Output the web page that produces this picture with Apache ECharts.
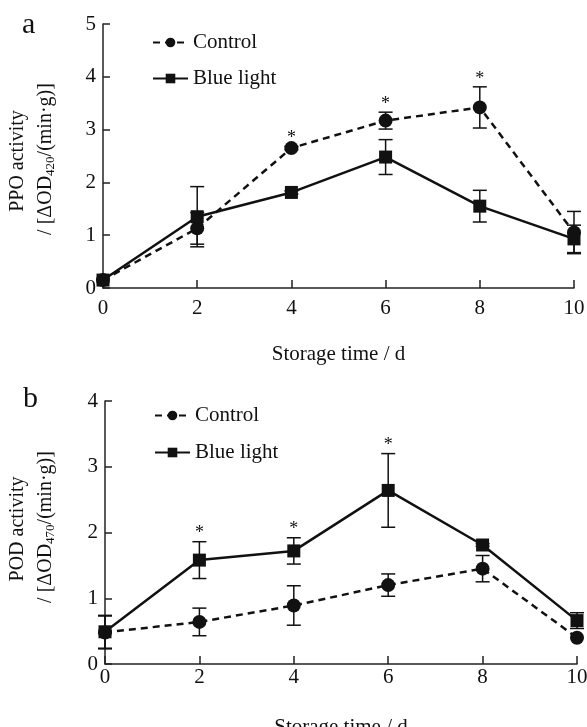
<!DOCTYPE html>
<html>
<head>
<meta charset="utf-8">
<script src="https://cdn.jsdelivr.net/npm/echarts@6/dist/echarts.min.js"></script>
<style>html,body{margin:0;padding:0;background:#fff}#c{width:587px;height:727px}</style>
</head>
<body>
<div id="c"></div>
<script>
// ---- data ----
var days = [0, 2, 4, 6, 8, 10];
var xTicks = [0, 2, 4, 6, 8, 10];
// Panel a: PPO activity
var ppoControl = [0.15, 1.13, 2.65, 3.17, 3.42, 1.05];
var ppoControlErr = [0, 0.30, 0.03, 0.16, 0.39, 0.40];
var ppoBlue = [0.15, 1.35, 1.81, 2.48, 1.55, 0.93];
var ppoBlueErr = [0, 0.57, 0.03, 0.33, 0.30, 0.26];
var ppoSig = [0, 0, 1, 1, 1, 0];
// Panel b: POD activity
var podControl = [0.48, 0.64, 0.89, 1.20, 1.45, 0.40];
var podControlErr = [0.25, 0.21, 0.30, 0.17, 0.20, 0];
var podBlue = [0.49, 1.58, 1.72, 2.64, 1.81, 0.66];
var podBlueErr = [0.25, 0.28, 0.20, 0.56, 0.02, 0.12];
var podSig = [0, 1, 1, 1, 0, 0];

var FONT = '"Liberation Serif", "DejaVu Serif", serif';
var INK = '#111';
var FS = 21;

function pts(vals) { return days.map(function (d, i) { return [d, vals[i]]; }); }
function errPts(vals, errs) {
  return days.map(function (d, i) { return [d, vals[i] - errs[i], vals[i] + errs[i]]; })
    .filter(function (p, i) { return errs[i] > 0; });
}
function sigPts(sig, a, ae, b, be) {
  var out = [];
  days.forEach(function (d, i) {
    if (sig[i]) out.push([d, Math.max(a[i] + ae[i], b[i] + be[i])]);
  });
  return out;
}

function errSeries(data, idx) {
  return {
    type: 'custom', xAxisIndex: idx, yAxisIndex: idx, data: data, z: 1,
    encode: { x: 0, y: [1, 2] },
    renderItem: function (params, api) {
      var x = api.value(0);
      var lo = api.coord([x, api.value(1)]);
      var hi = api.coord([x, api.value(2)]);
      var w = 7;
      var st = { stroke: INK, lineWidth: 1.5 };
      return { type: 'group', children: [
        { type: 'line', shape: { x1: lo[0], y1: lo[1], x2: hi[0], y2: hi[1] }, style: st },
        { type: 'line', shape: { x1: lo[0] - w, y1: lo[1], x2: lo[0] + w, y2: lo[1] }, style: st },
        { type: 'line', shape: { x1: hi[0] - w, y1: hi[1], x2: hi[0] + w, y2: hi[1] }, style: st }
      ] };
    }
  };
}
function sigSeries(data, idx) {
  return {
    type: 'custom', xAxisIndex: idx, yAxisIndex: idx, data: data, z: 5,
    encode: { x: 0, y: 1 },
    renderItem: function (params, api) {
      var p = api.coord([api.value(0), api.value(1)]);
      return { type: 'text', x: p[0], y: p[1] + 1,
        style: { text: '*', fill: INK, font: '18px ' + FONT, align: 'center', verticalAlign: 'bottom' } };
    }
  };
}
function lineSeries(name, data, idx, dashed, symbol) {
  return {
    name: name, type: 'line', xAxisIndex: idx, yAxisIndex: idx, data: data, z: 3,
    symbol: symbol, symbolSize: symbol === 'circle' ? 14 : 13,
    itemStyle: { color: INK },
    lineStyle: { color: INK, width: 2.5, type: dashed ? [7, 5] : 'solid' }
  };
}

function xAxis(idx, labelMargin, nameGap) {
  return {
    type: 'value', gridIndex: idx, min: 0, max: 10, interval: 2,
    axisLine: { lineStyle: { color: '#222', width: 1.5 } },
    axisTick: { inside: true, length: 8, lineStyle: { color: '#222', width: 1.5 } },
    axisLabel: { color: INK, fontFamily: FONT, fontSize: FS, margin: labelMargin,
      formatter: function (v) { return xTicks.indexOf(v) >= 0 ? String(v) : ''; } },
    splitLine: { show: false },
    name: 'Storage time / d', nameLocation: 'middle', nameGap: nameGap,
    nameTextStyle: { color: INK, fontFamily: FONT, fontSize: FS }
  };
}
function yAxis(idx, max) {
  return {
    type: 'value', gridIndex: idx, min: 0, max: max, interval: 1,
    axisLine: { show: true, lineStyle: { color: '#222', width: 1.5 } },
    axisTick: { show: true, inside: true, length: 7, lineStyle: { color: '#222', width: 1.5 } },
    axisLabel: { color: INK, fontFamily: FONT, fontSize: FS, margin: 7 },
    splitLine: { show: false }
  };
}
function legend(top, left, gap) {
  return {
    orient: 'vertical', left: left, top: top, itemWidth: 35, itemHeight: 12, itemGap: gap,
    padding: 0,
    data: ['Control', 'Blue light'],
    textStyle: { color: INK, fontFamily: FONT, fontSize: FS },
    selectedMode: false
  };
}
function yTitle(x1, x2, yc, top, sub) {
  return [
    { type: 'text', x: x1, y: yc, rotation: Math.PI / 2,
      style: { text: top, fill: INK, font: '20px ' + FONT, align: 'center', verticalAlign: 'middle' } },
    { type: 'text', x: x2, y: yc - 2, rotation: Math.PI / 2,
      style: { text: '/ [ΔOD{s|' + sub + '}/(min·g)]', fill: INK, font: '20px ' + FONT,
        align: 'center', verticalAlign: 'middle',
        rich: { s: { fontSize: 13, fontFamily: FONT, fill: INK, verticalAlign: 'bottom', padding: [10, 0, 0, 0] } } } }
  ];
}

var chart = echarts.init(document.getElementById('c'), null, { renderer: 'canvas' });
chart.setOption({
  animation: false,
  backgroundColor: '#fff',
  grid: [
    { left: 103, top: 24, width: 471, height: 264, outerBoundsMode: 'none', containLabel: false },
    { left: 105, top: 401, width: 472, height: 263, outerBoundsMode: 'none', containLabel: false }
  ],
  xAxis: [xAxis(0, 10, 56), xAxis(1, 3, 53)],
  yAxis: [yAxis(0, 5), yAxis(1, 4)],
  legend: [legend(32, 152, 15), legend(405, 154, 16)],
  graphic: [
    { type: 'text', x: 22, y: 10, style: { text: 'a', fill: INK, font: '30px ' + FONT } },
    { type: 'text', x: 23, y: 384, style: { text: 'b', fill: INK, font: '30px ' + FONT } }
  ].concat(yTitle(18, 46, 161, 'PPO activity', '420'))
   .concat(yTitle(18, 46, 529, 'POD activity', '470')),
  series: [
    errSeries(errPts(ppoControl, ppoControlErr), 0),
    errSeries(errPts(ppoBlue, ppoBlueErr), 0),
    lineSeries('Control', pts(ppoControl), 0, true, 'circle'),
    lineSeries('Blue light', pts(ppoBlue), 0, false, 'rect'),
    sigSeries(sigPts(ppoSig, ppoControl, ppoControlErr, ppoBlue, ppoBlueErr), 0),
    errSeries(errPts(podControl, podControlErr), 1),
    errSeries(errPts(podBlue, podBlueErr), 1),
    lineSeries('Control', pts(podControl), 1, true, 'circle'),
    lineSeries('Blue light', pts(podBlue), 1, false, 'rect'),
    sigSeries(sigPts(podSig, podControl, podControlErr, podBlue, podBlueErr), 1)
  ]
});
</script>
</body>
</html>
